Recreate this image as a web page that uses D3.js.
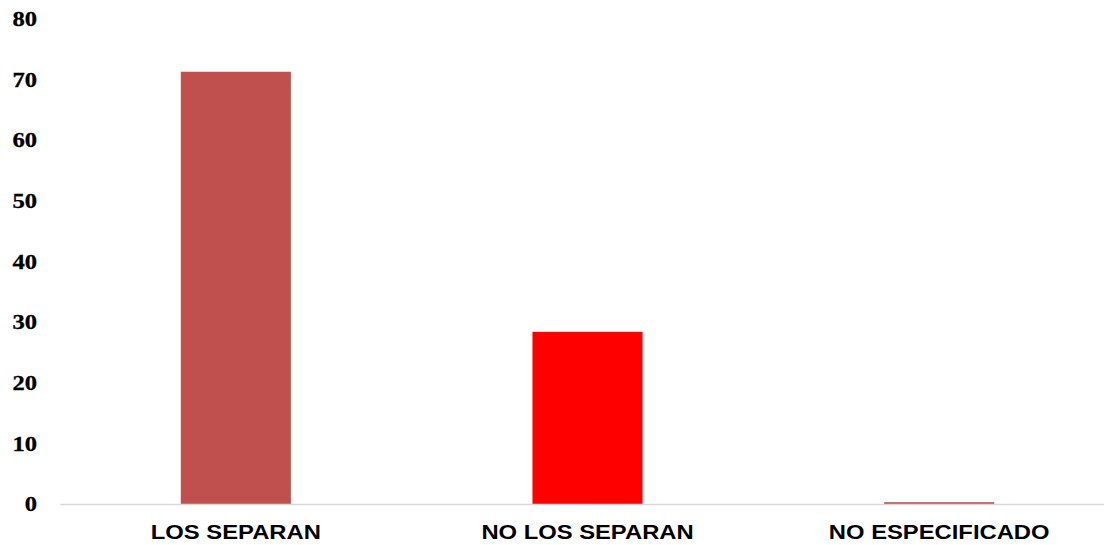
<!DOCTYPE html>
<html>
<head>
<meta charset="utf-8">
<script src="https://cdn.jsdelivr.net/npm/d3@7"></script>
<style>
  body { margin: 0; background: #fff; }
</style>
</head>
<body>
<div id="chart"></div>
<script>
// categories and values (percent)
const categories = ['LOS SEPARAN', 'NO LOS SEPARAN', 'NO ESPECIFICADO'];
const values = [71.3, 28.4, 0.3];
const barColors = ['#C0504D', '#FF0000', '#C0504D'];
const yTicks = [0, 10, 20, 30, 40, 50, 60, 70, 80];

const width = 1104;
const height = 545;

const svg = d3.select('#chart').append('svg').attr('width', width).attr('height', height);

const x = d3
  .scaleBand()
  .domain(categories)
  .range([60, 1115])
  .paddingInner(0.687)
  .paddingOuter(0.3435);

const y = d3.scaleLinear().domain([0, 80]).range([504, 19]);

// widen text glyphs, the original text is a bit wide
function widen(sel, stretch) {
  sel.each(function () {
    const len = this.getComputedTextLength();
    d3.select(this).attr('textLength', len * stretch).attr('lengthAdjust', 'spacingAndGlyphs');
  });
}

// y axis labels
const yAxis = svg
  .append('g')
  .attr('transform', 'translate(37, 0)')
  .call(d3.axisLeft(y).tickValues(yTicks).tickSize(0).tickPadding(0));
yAxis.select('.domain').remove();
yAxis
  .selectAll('text')
  .attr('font-family', '"Liberation Serif", serif')
  .attr('font-weight', 'bold')
  .attr('font-size', 21)
  .attr('fill', '#000')
  .attr('stroke', '#000')
  .attr('stroke-width', 0.3)
  .call(widen, 1.17);

// bars
svg
  .selectAll('.bar')
  .data(categories)
  .enter()
  .append('rect')
  .attr('class', 'bar')
  .attr('x', (d) => x(d))
  .attr('y', (d, i) => y(values[i]))
  .attr('width', x.bandwidth())
  .attr('height', (d, i) => y(0) - y(values[i]))
  .attr('fill', (d, i) => barColors[i]);

// x axis
const xAxis = svg
  .append('g')
  .attr('transform', `translate(0, ${y(0)})`)
  .call(d3.axisBottom(x).tickSize(0).tickPadding(20));
xAxis.select('.domain').attr('stroke', '#d9d9d9').attr('stroke-width', 1.5);
xAxis
  .selectAll('text')
  .attr('font-family', '"Liberation Sans", Arial, sans-serif')
  .attr('font-weight', 'bold')
  .attr('font-size', 20.5)
  .attr('fill', '#000')
  .call(widen, 1.16);
</script>
</body>
</html>
